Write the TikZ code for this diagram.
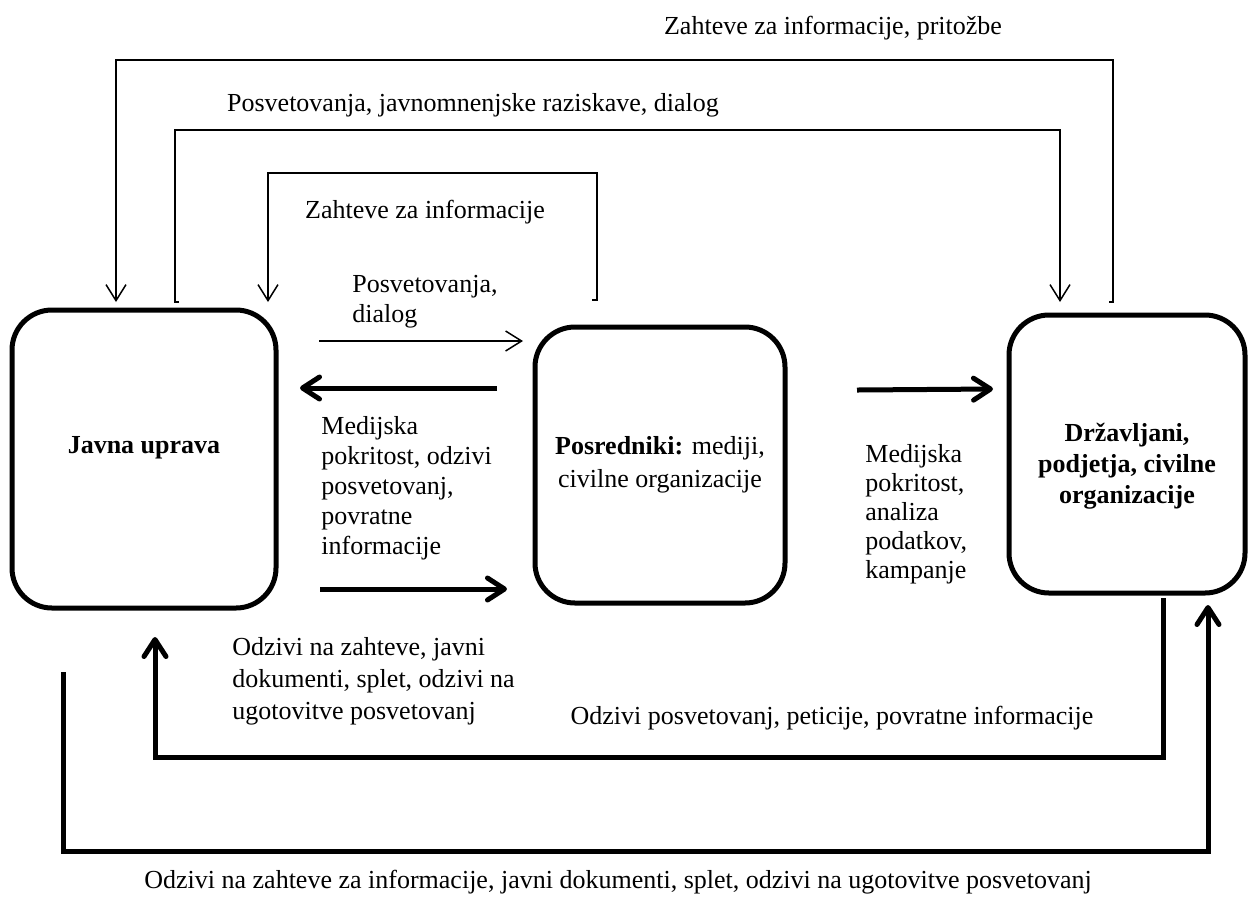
\documentclass[tikz,border=0pt]{standalone}
\usepackage{fontspec}
\setmainfont{Liberation Serif}
\usetikzlibrary{arrows.meta}
\begin{document}
\begin{tikzpicture}[x=0.5pt, y=-0.5pt, font=\fontsize{13}{15}\selectfont]

\tikzstyle{actor}=[draw, line width=2.5pt, rounded corners=20pt, align=center]
\tikzstyle{lbl}=[align=left, anchor=west, inner sep=0pt]
\tikzstyle{thinflow}=[line width=0.75pt, -{Straight Barb[length=8pt, width=10pt]}]
\tikzstyle{thickflow}=[line width=2.5pt, -{Straight Barb[length=8.5pt, width=11pt, round]}]

\useasboundingbox (0,0) rectangle (1249,902);

% --- the three actors ---
\node[actor, minimum width=132pt, minimum height=149pt] (uprava) at (144,459) {};
\node[actor, minimum width=125pt, minimum height=138pt] (posr) at (660,465) {};
\node[actor, minimum width=118pt, minimum height=139pt] (drzav) at (1127,454) {};

\node[font=\fontsize{13}{15}\selectfont\bfseries] (upravaTxt) at ([yshift=5.5pt]uprava.center) {Javna uprava};
\node[align=center, font=\fontsize{13}{16.5}\selectfont] (posrTxt) at (posr.center) {\textbf{Posredniki:} mediji,\\civilne organizacije};
\node[align=center, font=\fontsize{13}{15.5}\selectfont\bfseries] (drzavTxt) at ([yshift=-6pt]drzav.center) {Državljani,\\podjetja, civilne\\organizacije};

% --- ends of the brackets above the boxes ---
\coordinate (aFrom) at (1113,302);
\coordinate (aTo)   at (116,302);
\coordinate (bFrom) at (175,302);
\coordinate (bTo)   at (1060,302);
\coordinate (cFrom) at (597,300);
\coordinate (cTo)   at (268,302);

\draw[thinflow] ([xshift=-2pt]aFrom) -- (aFrom) -- (1113,60) -- (116,60) -- (aTo);
\draw[thinflow] ([xshift=2pt]bFrom) -- (bFrom) -- (175,130) -- (1060,130) -- (bTo);
\draw[thinflow] ([xshift=-2.5pt]cFrom) -- (cFrom) -- (597,173) -- (268,173) -- (cTo);

\node (lblA) at (833,28) {Zahteve za informacije, pritožbe};
\node (lblB) at (473,105) {Posvetovanja, javnomnenjske raziskave, dialog};
\node (lblC) at (425,212) {Zahteve za informacije};

% --- arrows between the boxes ---
\coordinate (dlgFrom) at (319,341);
\coordinate (dlgTo)   at (523,341);
\coordinate (medFrom) at (497,388);
\coordinate (medTo)   at (300,388);
\coordinate (odzFrom) at (320,589);
\coordinate (odzTo)   at (507,589);
\coordinate (kamFrom) at (857,390);
\coordinate (kamTo)   at (993,389);

\draw[thinflow] (dlgFrom) -- (dlgTo);
\draw[thickflow] (medFrom) -- (medTo);
\draw[thickflow] (odzFrom) -- (odzTo);
\draw[thickflow] (kamFrom) -- (kamTo);

\node[lbl] (lblDlg) at (352,302) {Posvetovanja,\\dialog};
\node[lbl] (lblMed) at (321,488) {Medijska\\pokritost, odzivi\\posvetovanj,\\povratne\\informacije};
\node[lbl, font=\fontsize{13}{14.5}\selectfont] (lblKam) at (865,514) {Medijska\\pokritost,\\analiza\\podatkov,\\kampanje};

% --- feedback loops below ---
\coordinate (dFrom) at (1163,598);
\coordinate (dTo)   at (155,637);
\coordinate (eFrom) at (63,672);
\coordinate (eTo)   at (1208,605);

\draw[thickflow] (dFrom) -- (1163,757) -- (155,757) -- (dTo);
\draw[thickflow] (eFrom) -- (63,851) -- (1208,851) -- (eTo);

\node[lbl, font=\fontsize{13}{16}\selectfont] (lblOdz) at (232,681) {Odzivi na zahteve, javni\\dokumenti, splet, odzivi na\\ugotovitve posvetovanj};
\node (lblPet) at (832,718) {Odzivi posvetovanj, peticije, povratne informacije};
\node (lblSplet) at (618,882) {Odzivi na zahteve za informacije, javni dokumenti, splet, odzivi na ugotovitve posvetovanj};

\end{tikzpicture}
\end{document}
